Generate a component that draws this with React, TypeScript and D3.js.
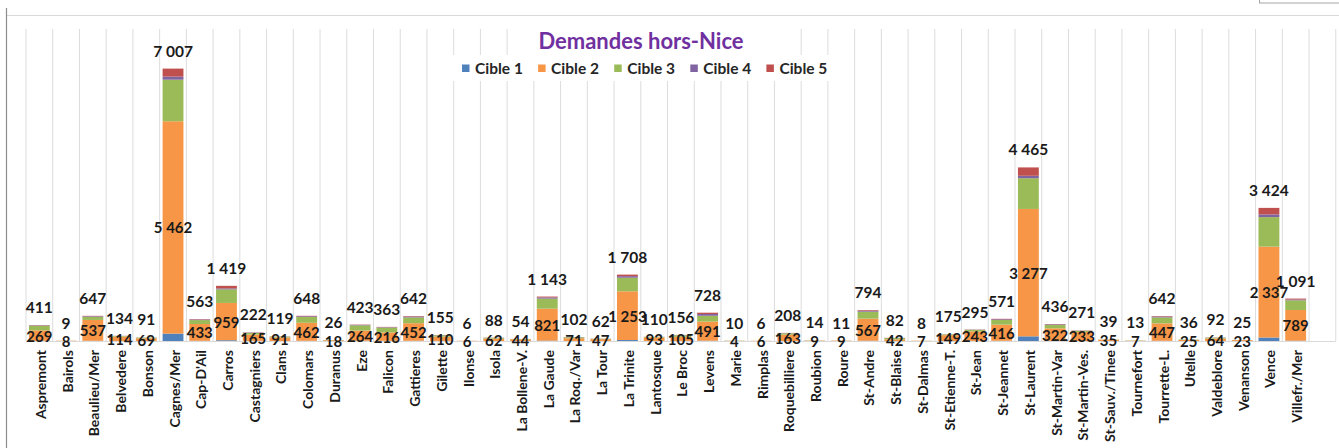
import React from "react";
import * as d3 from "d3";

const categories = [
  "Aspremont", "Bairols", "Beaulieu/Mer", "Belvedere", "Bonson", "Cagnes/Mer", "Cap-D'Ail", "Carros",
  "Castagniers", "Clans", "Colomars", "Duranus", "Eze", "Falicon", "Gattieres", "Gilette",
  "Ilonse", "Isola", "La Bollene-V.", "La Gaude", "La Roq./Var", "La Tour", "La Trinite", "Lantosque",
  "Le Broc", "Levens", "Marie", "Rimplas", "Roquebilliere", "Roubion", "Roure", "St-Andre",
  "St-Blaise", "St-Dalmas", "St-Etienne-T.", "St-Jean", "St-Jeannet", "St-Laurent", "St-Martin-Var", "St-Martin-Ves.",
  "St-Sauv./Tinee", "Tournefort", "Tourrette-L.", "Utelle", "Valdeblore", "Venanson", "Vence", "Villefr./Mer",
];

const cible1 = [5, 0, 5, 0, 0, 190, 5, 20, 3, 0, 6, 0, 5, 4, 6, 2, 0, 0, 0, 10, 0, 0, 25, 0, 2, 8, 0, 0, 0, 0, 0, 7, 0, 0, 0, 2, 5, 120, 4, 0, 0, 0, 6, 0, 0, 0, 90, 8];
const cible2 = [269, 8, 537, 114, 69, 5462, 433, 959, 165, 91, 462, 18, 264, 216, 452, 110, 6, 62, 44, 821, 71, 47, 1253, 93, 105, 491, 4, 6, 163, 9, 9, 567, 42, 7, 149, 243, 416, 3277, 322, 233, 35, 7, 447, 25, 64, 23, 2337, 789];
const cible3 = [120, 1, 80, 15, 18, 1070, 100, 350, 40, 22, 150, 7, 135, 125, 150, 35, 0, 20, 8, 260, 25, 12, 350, 13, 40, 150, 5, 0, 35, 4, 2, 180, 33, 1, 20, 40, 120, 790, 85, 28, 3, 5, 155, 9, 22, 2, 760, 250];
const cible4 = [10, 0, 15, 3, 2, 80, 15, 25, 8, 3, 18, 1, 12, 10, 20, 5, 0, 3, 1, 30, 3, 2, 40, 2, 5, 45, 0, 0, 5, 1, 0, 22, 4, 0, 3, 5, 18, 63, 15, 5, 1, 0, 20, 1, 3, 0, 70, 20];
const cible5 = [7, 0, 10, 2, 2, 205, 10, 65, 6, 3, 12, 0, 7, 8, 14, 3, 0, 3, 1, 22, 3, 1, 40, 2, 4, 34, 1, 0, 5, 0, 0, 18, 3, 0, 3, 5, 12, 215, 10, 5, 0, 1, 14, 1, 3, 0, 167, 24];

const seriesNames = ["Cible 1", "Cible 2", "Cible 3", "Cible 4", "Cible 5"];
const seriesColors = ["#4F81BD", "#F79646", "#9BBB59", "#8064A2", "#C0504D"];
const yTicks = [0, 8000];

const W = 1339;
const H = 448;
const FONT = "Lato, Carlito, Calibri, 'Open Sans', sans-serif";

export default function App() {
  const series = [cible1, cible2, cible3, cible4, cible5];
  const rows = categories.map((c, i) => {
    const r: any = { cat: c };
    seriesNames.forEach((s, k) => (r[s] = series[k][i]));
    return r;
  });
  const stacked = d3.stack().keys(seriesNames)(rows);
  const totals = categories.map((_, i) => series.reduce((a, s) => a + s[i], 0));

  const step = 26.73;
  const x0 = 26;
  const x = d3
    .scaleBand()
    .domain(categories)
    .range([x0, x0 + step * categories.length])
    .paddingInner(0.22)
    .paddingOuter(0.11);
  const y = d3.scaleLinear().domain([yTicks[0], yTicks[1]]).range([341, 30]);

  const fmt = d3.formatLocale({ decimal: ",", thousands: " ", grouping: [3], currency: ["", "€"] }).format(",d");

  const gridXs = d3.range(categories.length + 2).map((i) => x0 + i * x.step());

  return (
    <svg width={W} height={H} style={{ position: "fixed", left: 0, top: 0, background: "#fff" }}>
      <rect x={0} y={0} width={W} height={H} fill="#fff" />
      {/* frame */}
      <line x1={7} x2={W} y1={15.5} y2={15.5} stroke="#d9d9d9" strokeWidth={1} />
      <line x1={6.5} x2={6.5} y1={8} y2={H} stroke="#8c8c8c" strokeWidth={1.2} />
      <rect x={1259.5} y={-6} width={90} height={9} fill="#fff" stroke="#a6a6a6" />

      {/* vertical gridlines */}
      {gridXs.map((gx, i) => (
        <line key={i} x1={gx} x2={gx} y1={y(yTicks[1]) - 1} y2={y(0)} stroke="#dcdcdc" strokeWidth={1} />
      ))}
      <line x1={x0} x2={gridXs[gridXs.length - 1]} y1={y(0) + 0.5} y2={y(0) + 0.5} stroke="#d9d9d9" />

      {/* title & legend boxes */}
      <rect x={533} y={29} width={242} height={26} fill="#fff" />
      <rect x={452} y={55} width={388} height={26} fill="#fff" />
      <text x={641} y={49} textAnchor="middle" fontFamily={FONT} fontWeight="bold" fontSize={22} fill="#7030A0">
        Demandes hors-Nice
      </text>
      {seriesNames.map((s, k) => {
        const lx = 462 + k * 76.1;
        return (
          <g key={s}>
            <rect x={lx} y={64.5} width={7.5} height={7.5} fill={seriesColors[k]} />
            <text x={lx + 13} y={73.5} fontFamily={FONT} fontWeight="bold" fontSize={15.5} fill="#262626">
              {s}
            </text>
          </g>
        );
      })}

      {/* bars */}
      {stacked.map((layer, k) => (
        <g key={layer.key} fill={seriesColors[k]}>
          {layer.map((d, i) => {
            const h = y(d[0]) - y(d[1]);
            if (h <= 0) return null;
            return <rect key={i} x={x(categories[i])} y={y(d[1])} width={x.bandwidth()} height={h} />;
          })}
        </g>
      ))}

      {/* cible 2 labels */}
      {stacked[1].map((d, i) => (
        <text
          key={"c2" + i}
          x={(x(categories[i]) as number) + x.bandwidth() / 2}
          y={(y(d[0]) + y(d[1])) / 2}
          textAnchor="middle"
          dominantBaseline="central"
          fontFamily={FONT}
          fontWeight="bold"
          fontSize={15}
          fill="#1a1a1a"
        >
          {fmt(cible2[i])}
        </text>
      ))}

      {/* totals */}
      {totals.map((t, i) => (
        <text
          key={"t" + i}
          x={(x(categories[i]) as number) + x.bandwidth() / 2}
          y={y(t) - 12}
          textAnchor="middle"
          fontFamily={FONT}
          fontWeight="bold"
          fontSize={15.5}
          fill="#1a1a1a"
        >
          {fmt(t)}
        </text>
      ))}

      {/* category labels */}
      {categories.map((c) => (
        <text
          key={"l" + c}
          transform={`translate(${(x(c) as number) + x.bandwidth() / 2 + 1},350) rotate(-90)`}
          textAnchor="end"
          dominantBaseline="central"
          fontFamily={FONT}
          fontWeight="bold"
          fontSize={14}
          fill="#1a1a1a"
        >
          {c}
        </text>
      ))}
    </svg>
  );
}
